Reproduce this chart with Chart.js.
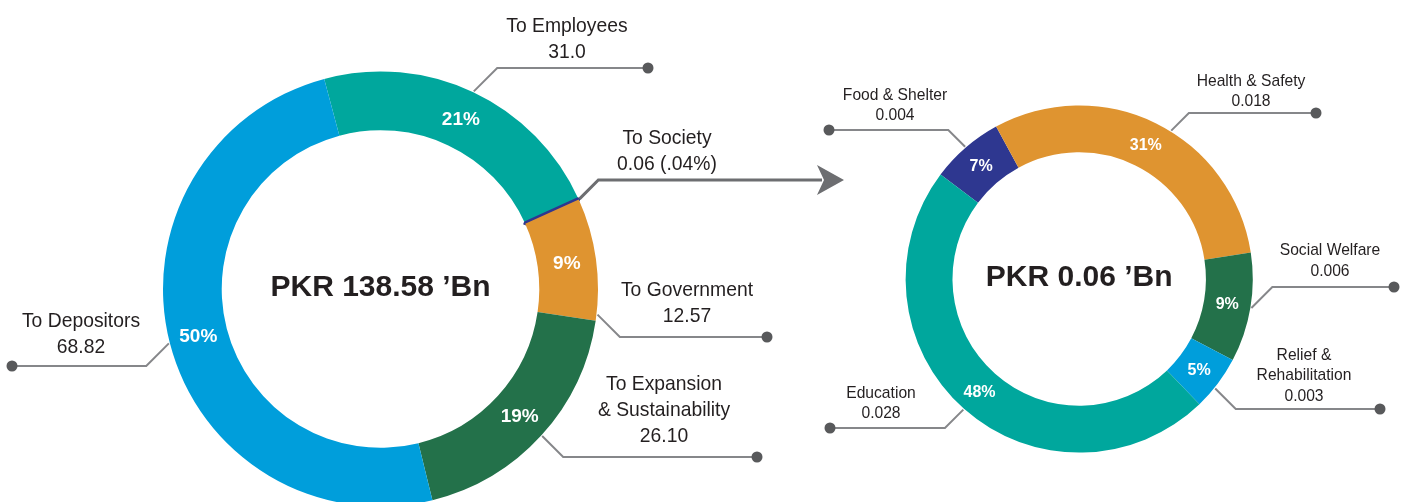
<!DOCTYPE html>
<html>
<head>
<meta charset="utf-8">
<script src="https://cdn.jsdelivr.net/npm/chart.js@4/dist/chart.umd.min.js"></script>
<style>
    html, body { margin: 0; padding: 0; background: #ffffff; overflow: hidden; }
    #wrap { position: relative; width: 1405px; height: 502px; overflow: hidden; }
    #wrap canvas { position: absolute; left: 0; top: 0; }
</style>
</head>
<body>
<div id="wrap">
    <canvas id="valueChart" width="1405" height="520"></canvas>
    <canvas id="societyChart" width="1405" height="520"></canvas>
</div>
<script>
// Distribution of value added (PKR 'Bn)
const valueLabels = ['To Employees', 'To Society', 'To Government', 'To Expansion\n& Sustainability', 'To Depositors'];
const valueAmounts = [31.0, 0.06, 12.57, 26.10, 68.82];
const valueAmountText = ['31.0', '0.06 (.04%)', '12.57', '26.10', '68.82'];
const valueShares = ['21%', '', '9%', '19%', '50%'];
const valueTotal = 'PKR 138.58 \u2019Bn';

// Breakdown of the amount given to society
const societyLabels = ['Food & Shelter', 'Health & Safety', 'Social Welfare', 'Relief &\nRehabilitation', 'Education'];
const societyAmounts = [0.004, 0.018, 0.006, 0.003, 0.028];
const societyAmountText = ['0.004', '0.018', '0.006', '0.003', '0.028'];
const societyShares = ['7%', '31%', '9%', '5%', '48%'];
const societyTotal = 'PKR 0.06 \u2019Bn';

const BLUE = '#009EDB';
const TEAL = '#00A79D';
const NAVY = '#2E3790';
const ORANGE = '#DF9430';
const GREEN = '#23714A';
const TEXT = '#231F20';
const LINE = '#86878A';
const DOT = '#58595B';

// callout placement for each slice: text centre, first baseline, leader row and end
const valueCallouts = [
    { x: 567, y: 31.5, lineY: 68, endX: 648, at: 0.5 },
    { x: 667, y: 143.5, lineY: 180, endX: 844, at: 0.5, arrow: true },
    { x: 687, y: 296, lineY: 337, endX: 767, at: 0.95 },
    { x: 664, y: 390, lineY: 457, endX: 757, at: 0.5 },
    { x: 81, y: 327, lineY: 366, endX: 12, at: 0.5 }
];
const societyCallouts = [
    { x: 895, y: 99.5, lineY: 130, endX: 829, at: 0.5 },
    { x: 1251, y: 85.5, lineY: 113, endX: 1316, at: 0.55 },
    { x: 1330, y: 255, lineY: 287, endX: 1394, at: 0.5 },
    { x: 1304, y: 359.5, lineY: 409, endX: 1380, at: 0.6 },
    { x: 881, y: 397.7, lineY: 428, endX: 830, at: 0.5 }
];

function drawText(ctx, text, x, y, font, color, squeeze) {
    ctx.save();
    ctx.translate(x, y);
    ctx.scale(squeeze, 1);
    ctx.font = font;
    ctx.fillStyle = color;
    ctx.textAlign = 'center';
    ctx.textBaseline = 'alphabetic';
    ctx.fillText(text, 0, 0);
    ctx.restore();
}

function drawArrowHead(ctx, tipX, y) {
    ctx.beginPath();
    ctx.moveTo(tipX, y);
    ctx.lineTo(tipX - 27, y - 15);
    ctx.lineTo(tipX - 20, y);
    ctx.lineTo(tipX - 27, y + 15);
    ctx.closePath();
    ctx.fillStyle = '#6D6E71';
    ctx.fill();
}

// labels, leader lines and the total in the hole
const calloutPlugin = {
    id: 'callouts',
    afterDraw(chart, args, opts) {
        const ctx = chart.ctx;
        const arcs = chart.getDatasetMeta(0).data;
        arcs.forEach(function(arc, i) {
            const p = arc.getProps(['x', 'y', 'startAngle', 'endAngle', 'outerRadius']);
            const c = opts.callouts[i];

            // leader line from the ring edge
            const a = p.startAngle + c.at * (p.endAngle - p.startAngle);
            const sx = p.x + (p.outerRadius + 1) * Math.cos(a);
            const sy = p.y + (p.outerRadius + 1) * Math.sin(a);
            const dir = c.endX > sx ? 1 : -1;
            const ex = sx + dir * Math.abs(c.lineY - sy);
            ctx.save();
            ctx.beginPath();
            ctx.moveTo(sx, sy);
            ctx.lineTo(ex, c.lineY);
            if (c.arrow) {
                ctx.lineTo(c.endX - 22, c.lineY);
                ctx.strokeStyle = '#6D6E71';
                ctx.lineWidth = 3;
                ctx.stroke();
                drawArrowHead(ctx, c.endX, c.lineY);
            } else {
                ctx.lineTo(c.endX, c.lineY);
                ctx.strokeStyle = LINE;
                ctx.lineWidth = 2;
                ctx.stroke();
                ctx.beginPath();
                ctx.arc(c.endX, c.lineY, 5.5, 0, Math.PI * 2);
                ctx.fillStyle = DOT;
                ctx.fill();
            }
            ctx.restore();

            // name and amount
            const lines = opts.labels[i].split('\n').concat([opts.amounts[i]]);
            lines.forEach(function(line, k) {
                drawText(ctx, line, c.x, c.y + k * opts.lineGap, opts.labelFont, TEXT, 0.92);
            });

            // share inside the ring
            if (opts.shares[i]) {
                const m = arc.tooltipPosition();
                ctx.save();
                ctx.font = opts.shareFont;
                ctx.fillStyle = '#ffffff';
                ctx.textAlign = 'center';
                ctx.textBaseline = 'middle';
                ctx.fillText(opts.shares[i], m.x, m.y + 1);
                ctx.restore();
            }
        });

        const centre = arcs[0].getProps(['x', 'y']);
        drawText(ctx, opts.total, centre.x, centre.y + 7, 'bold 30px "Liberation Sans", Arial, sans-serif', TEXT, 1);
    }
};

const valueCtx = document.getElementById('valueChart').getContext('2d');
new Chart(valueCtx, {
    type: 'doughnut',
    data: {
        labels: valueLabels,
        datasets: [{
            data: valueAmounts,
            backgroundColor: [TEAL, NAVY, ORANGE, GREEN, BLUE],
            borderColor: [TEAL, NAVY, ORANGE, GREEN, BLUE],
            // the society slice is too thin to see without an outline
            borderWidth: [0, 4, 0, 0, 0]
        }]
    },
    options: {
        responsive: false,
        animation: false,
        events: [],
        rotation: -15,
        cutout: '73%',
        layout: { padding: { left: 161, right: 805, top: 69.5, bottom: 11.5 } },
        plugins: {
            legend: { display: false },
            tooltip: { enabled: false },
            callouts: {
                callouts: valueCallouts,
                labels: valueLabels,
                amounts: valueAmountText,
                shares: valueShares,
                total: valueTotal,
                lineGap: 26,
                labelFont: '21px "Liberation Sans", Arial, sans-serif',
                shareFont: 'bold 19px "Liberation Sans", Arial, sans-serif'
            }
        }
    },
    plugins: [calloutPlugin]
});

const societyCtx = document.getElementById('societyChart').getContext('2d');
new Chart(societyCtx, {
    type: 'doughnut',
    data: {
        labels: societyLabels,
        datasets: [{
            data: societyAmounts,
            backgroundColor: [NAVY, ORANGE, GREEN, BLUE, TEAL],
            borderWidth: 0
        }]
    },
    options: {
        responsive: false,
        animation: false,
        events: [],
        rotation: -53,
        cutout: '73%',
        layout: { padding: { left: 905.6, right: 152.2, top: 105.4, bottom: 67.4 } },
        plugins: {
            legend: { display: false },
            tooltip: { enabled: false },
            callouts: {
                callouts: societyCallouts,
                labels: societyLabels,
                amounts: societyAmountText,
                shares: societyShares,
                total: societyTotal,
                lineGap: 20.5,
                labelFont: '17px "Liberation Sans", Arial, sans-serif',
                shareFont: 'bold 16px "Liberation Sans", Arial, sans-serif'
            }
        }
    },
    plugins: [calloutPlugin]
});
</script>
</body>
</html>
